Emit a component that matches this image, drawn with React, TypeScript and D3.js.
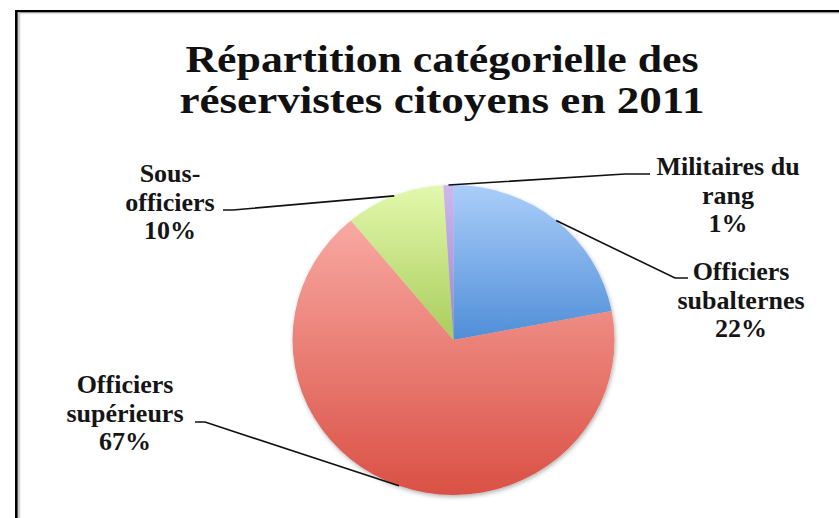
import React from 'react';
import * as d3 from 'd3';

const categories = ['Officiers subalternes', 'Officiers supérieurs', 'Sous-officiers', 'Militaires du rang'];
const values = [22, 67, 10, 1];
const labelLines = [
  ['Officiers', 'subalternes', '22%'],
  ['Officiers', 'supérieurs', '67%'],
  ['Sous-', 'officiers', '10%'],
  ['Militaires du', 'rang', '1%'],
];
const titleLines = ['Répartition catégorielle des', 'réservistes citoyens en 2011'];

const gradientStops = [
  ['#abcefa', '#4f8ed8'],
  ['#f8a9a2', '#da5045'],
  ['#e3f8ad', '#a9cd5b'],
  ['#cdb8ee', '#9b84cc'],
];

// layout (label centre x, first baseline y, leader elbow, leader end at label)
const labelLayout = [
  { x: 741, y: 280, elbow: [675, 278], end: [688, 278] },
  { x: 125, y: 393, elbow: [205, 422], end: [195, 422] },
  { x: 170, y: 182, elbow: [233, 210], end: [223, 210] },
  { x: 728, y: 175, elbow: [625, 174], end: [650, 174] },
];

const W = 839;
const H = 518;
const cx = 453.5;
const cy = 340;
const rx = 161;
const ry = 155;
const lineH = 28.5;
const font = "'Liberation Serif', 'DejaVu Serif', serif";

export default function App() {
  const pie = d3.pie<number>().sort(null).value((d) => d);
  const arcs = pie(values);
  const arc = d3.arc<d3.PieArcDatum<number>>().innerRadius(0).outerRadius(rx);

  return (
    <svg width={W} height={H} style={{ position: 'absolute', left: 0, top: 0, background: '#fff' }}>
      <defs>
        {gradientStops.map((s, i) => (
          <linearGradient key={i} id={`g${i}`} x1="0" y1="0" x2="0" y2="1">
            <stop offset="0%" stopColor={s[0]} />
            <stop offset="100%" stopColor={s[1]} />
          </linearGradient>
        ))}
        <filter id="shadow" x="-10%" y="-10%" width="120%" height="120%">
          <feDropShadow dx="1" dy="2" stdDeviation="2" floodColor="#000" floodOpacity="0.3" />
        </filter>
      </defs>
      <rect x={0} y={0} width={W} height={H} fill="#fff" />
      {/* frame */}
      <rect x={15} y={10} width={W} height={2.6} fill="#000" />
      <rect x={15} y={10} width={2.8} height={H} fill="#000" />
      <rect x={17.8} y={12.6} width={W} height={1.6} fill="#e2e2e2" />
      <rect x={17.8} y={12.6} width={2.4} height={H} fill="#cfcfcf" />

      {/* title */}
      {titleLines.map((t, i) => (
        <text
          key={i}
          x={442}
          y={72 + i * 41}
          textAnchor="middle"
          fontFamily={font}
          fontWeight="bold"
          fontSize={37}
          fill="#111"
          textLength={i === 0 ? 513 : 525}
          lengthAdjust="spacingAndGlyphs"
        >
          {t}
        </text>
      ))}

      {/* pie */}
      <g transform={`translate(${cx},${cy}) scale(1,${ry / rx})`} filter="url(#shadow)">
        {arcs.map((a, i) => (
          <path key={categories[i]} d={arc(a) || ''} fill={`url(#g${i})`} />
        ))}
      </g>

      {/* leader lines */}
      {arcs.map((a, i) => {
        const mid = (a.startAngle + a.endAngle) / 2;
        const px = cx + rx * Math.sin(mid);
        const py = cy - ry * Math.cos(mid);
        const L = labelLayout[i];
        const line = d3.line()([[px, py], L.elbow as [number, number], L.end as [number, number]]);
        return <path key={'l' + i} d={line || ''} fill="none" stroke="#111" strokeWidth={1.6} />;
      })}

      {/* labels */}
      {labelLines.map((lines, i) => (
        <text
          key={'t' + i}
          textAnchor="middle"
          fontFamily={font}
          fontWeight="bold"
          fontSize={26}
          fill="#151515"
        >
          {lines.map((ln, j) => (
            <tspan key={j} x={labelLayout[i].x} y={labelLayout[i].y + j * lineH}>
              {ln}
            </tspan>
          ))}
        </text>
      ))}
    </svg>
  );
}
